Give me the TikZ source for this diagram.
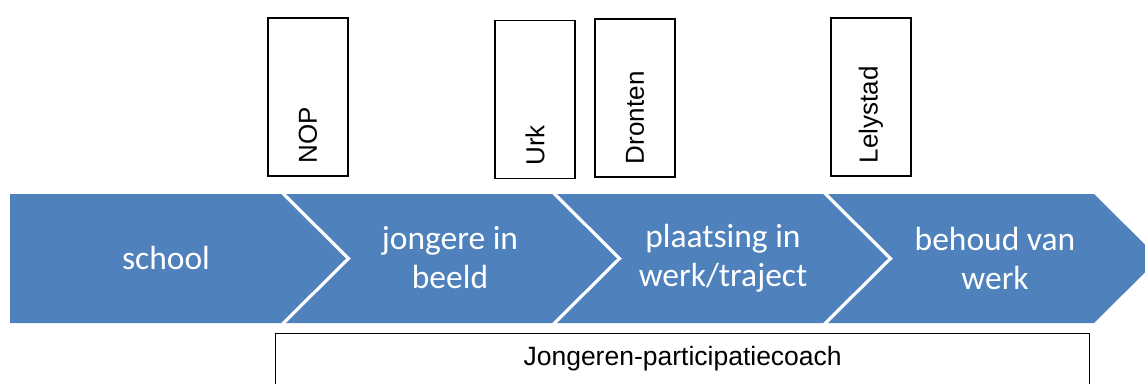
\documentclass[tikz,border=0pt]{standalone}
\usepackage{fontspec}
\newfontfamily\calibrifont{Carlito}
\newfontfamily\arialfont{Liberation Sans}
\usetikzlibrary{positioning}
\definecolor{stepblue}{HTML}{4F81BD}
\tikzset{
	phase/.style={fill=stepblue, draw=none},
	phasetext/.style={text=white, align=center, font=\calibrifont\fontsize{33.5}{39}\selectfont},
	placebox/.style={draw=black, fill=white, line width=1.3pt, rotate=90, minimum width=158pt, minimum height=80pt, inner sep=0pt, text width=132pt, align=left, font=\arialfont\fontsize{26}{30}\selectfont}
}

\begin{document}
\begin{tikzpicture}[x=1pt, y=-1pt]
		%%%%% START %%%%%
		\clip (0, 0) rectangle (1145, 383);
		\useasboundingbox (0, 0) rectangle (1145, 383);
		
		% fases
		\draw[phase] (10, 194) -- (281, 194) -- (346, 258.5) -- (281, 323) -- (10, 323) -- cycle;
		\draw[phase] (286, 194) -- (552, 194) -- (617, 258.5) -- (552, 323) -- (286, 323) -- (351, 258.5) -- cycle;
		\draw[phase] (557, 194) -- (823, 194) -- (888, 258.5) -- (823, 323) -- (557, 323) -- (622, 258.5) -- cycle;
		\draw[phase] (828, 194) -- (1094, 194) -- (1159, 258.5) -- (1094, 323) -- (828, 323) -- (893, 258.5) -- cycle;
		
		\node[phasetext] (school) at (166, 258) {school};
		\node[phasetext] (beeld) at (450, 258) {jongere in\\beeld};
		\node[phasetext] (plaatsing) at (723, 258) {plaatsing in\\werk/traject};
		\node[phasetext] (behoud) at (995, 258) {behoud van\\werk};
		
		% locaties
		\node[placebox] (nop) at (308, 97) {NOP};
		\node[placebox] (urk) at (535, 99.5) {Urk};
		\node[placebox] (dronten) at (635, 98) {Dronten};
		\node[placebox] (lelystad) at (871, 97) {Lelystad};
		
		% coach
		\node[draw=black, line width=1.3pt, anchor=north west, minimum width=814pt, minimum height=70pt, inner sep=0pt] (coach) at (275, 333) {};
		\node[font=\arialfont\fontsize{26.5}{30}\selectfont, anchor=north, inner sep=0pt] (coachtext) at ([yshift=-13pt]coach.north) {Jongeren-participatiecoach};
		
		%%%%% END %%%%%
	\end{tikzpicture}
\end{document}
